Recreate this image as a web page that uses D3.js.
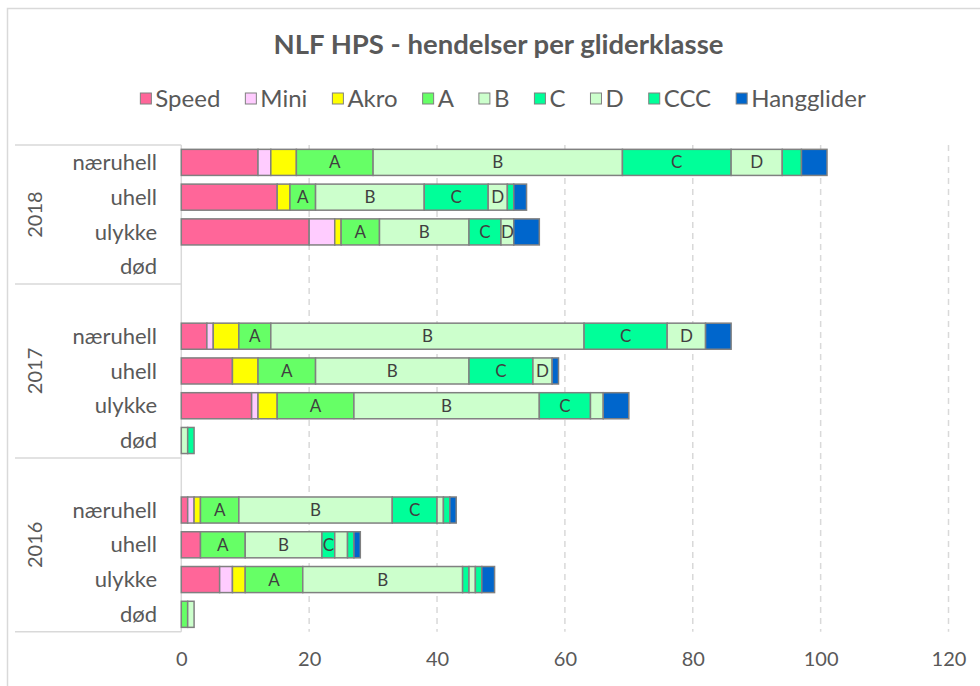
<!DOCTYPE html>
<html>
<head>
<meta charset="utf-8">
<script src="https://cdn.jsdelivr.net/npm/d3@7"></script>
<style>
  html, body { margin: 0; padding: 0; background: #fff; }
  svg { display: block; font-family: Lato, "Open Sans", sans-serif; }
</style>
</head>
<body>
<svg id="chart" width="980" height="686"></svg>
<script>
// ---------------- DATA ----------------
const title = "NLF HPS - hendelser per gliderklasse";
const years = ["2018", "2017", "2016"];
const eventTypes = ["næruhell", "uhell", "ulykke", "død"];
const seriesNames = ["Speed", "Mini", "Akro", "A", "B", "C", "D", "CCC", "Hangglider"];
const seriesColors = ["#ff6699", "#ffccff", "#ffff00", "#66ff66", "#ccffcc", "#00ff99", "#ccffcc", "#00ff99", "#0066cc"];
// rows: 2018 næruhell, uhell, ulykke, død, 2017 ..., 2016 ...
const speed      = [12, 15, 20, 0,  4,  8, 11, 0,  1,  3,  6, 0];
const mini       = [ 2,  0,  4, 0,  1,  0,  1, 0,  1,  0,  2, 0];
const akro       = [ 4,  2,  1, 0,  4,  4,  3, 0,  1,  0,  2, 0];
const classA     = [12,  4,  6, 0,  5,  9, 12, 0,  6,  7,  9, 1];
const classB     = [39, 17, 14, 0, 49, 24, 29, 1, 24, 12, 25, 1];
const classC     = [17, 10,  5, 0, 13, 10,  8, 1,  7,  2,  1, 0];
const classD     = [ 8,  3,  2, 0,  6,  3,  2, 0,  1,  2,  1, 0];
const classCCC   = [ 3,  1,  0, 0,  0,  0,  0, 0,  1,  1,  1, 0];
const hangglider = [ 4,  2,  4, 0,  4,  1,  4, 0,  1,  1,  2, 0];
// which series show a name label on each row
const labelledSeries = [["A","B","C","D"], ["A","B","C","D"], ["A","B","C","D"], [],
                        ["A","B","C","D"], ["A","B","C","D"], ["A","B","C"], [],
                        ["A","B","C"], ["A","B","C"], ["A","B"], []];
const xTicks = [0, 20, 40, 60, 80, 100, 120];

const seriesValues = [speed, mini, akro, classA, classB, classC, classD, classCCC, hangglider];

// ---------------- BUILD ROWS ----------------
const slots = [];
const rows = [];
years.forEach((yr, yi) => {
  if (yi > 0) slots.push({ id: yr + "-blank", year: yr, type: "" });
  eventTypes.forEach((t, ti) => {
    const idx = yi * eventTypes.length + ti;
    const s = { id: yr + "-" + t, year: yr, type: t, idx };
    slots.push(s);
    rows.push(s);
  });
});

const tableRows = rows.map(r => {
  const o = { id: r.id, idx: r.idx };
  seriesNames.forEach((n, i) => o[n] = seriesValues[i][r.idx]);
  return o;
});
const stacked = d3.stack().keys(seriesNames)(tableRows);

// ---------------- LAYOUT ----------------
const svg = d3.select("#chart");
const textColor = "#595959";
const gridColor = "#d9d9d9";

const plotTop = 145, plotBottom = 631.7;
const x = d3.scaleLinear().domain([0, 120]).range([181.3, 948.5]);
const y = d3.scaleBand().domain(slots.map(s => s.id)).range([plotTop, plotBottom]).paddingInner(0.25).paddingOuter(0.125);

// chart border (left/top visible)
svg.append("rect").attr("x", 7.5).attr("y", 8.5).attr("width", 1000).attr("height", 700)
  .attr("fill", "none").attr("stroke", gridColor).attr("stroke-width", 1.5);

// title
svg.append("text").attr("x", 498.5).attr("y", 54).attr("text-anchor", "middle")
  .attr("font-weight", "bold").attr("font-size", 27.5).attr("fill", textColor).text(title);

// legend
const legend = svg.append("g").attr("class", "legend");
const legFont = 24;
const legItems = [];
seriesNames.forEach((n, i) => {
  const g = legend.append("g");
  g.append("rect").attr("x", 0).attr("y", -6).attr("width", 11).attr("height", 11)
    .attr("fill", seriesColors[i]).attr("stroke", "#808080").attr("stroke-width", 1);
  const t = g.append("text").attr("x", 15).attr("y", 0).attr("dy", "0.35em")
    .attr("font-size", legFont).attr("fill", textColor).text(n);
  const w = 15 + t.node().getComputedTextLength();
  legItems.push({ g, w });
});
const legGap = 25;
const legTotal = d3.sum(legItems, d => d.w) + legGap * (legItems.length - 1);
let lx = 503 - legTotal / 2;
legItems.forEach(it => { it.g.attr("transform", `translate(${lx},99)`); lx += it.w + legGap; });

// gridlines
svg.append("g").selectAll("line").data(xTicks.filter(t => t > 0)).join("line")
  .attr("x1", d => x(d)).attr("x2", d => x(d)).attr("y1", plotTop).attr("y2", plotBottom)
  .attr("stroke", gridColor).attr("stroke-width", 1.5).attr("stroke-dasharray", "6,5");

// x axis
const xAxis = svg.append("g").attr("transform", `translate(0,${plotBottom})`)
  .call(d3.axisBottom(x).tickValues(xTicks).tickSize(0).tickPadding(20));
xAxis.select(".domain").remove();
xAxis.selectAll("text").attr("font-size", 20).attr("fill", textColor).attr("font-family", "Lato, sans-serif");

// category axis (multi-level table)
const yAxis = svg.append("g");
yAxis.append("line").attr("x1", x(0)).attr("x2", x(0)).attr("y1", plotTop).attr("y2", plotBottom)
  .attr("stroke", gridColor).attr("stroke-width", 1.5);
const groupBounds = [];
years.forEach((yr) => {
  const ids = slots.filter(s => s.year === yr).map(s => s.id);
  const step = y.step();
  const top = y(ids[0]) - y.paddingInner() * step / 2 - (ids[0] === slots[0].id ? (y.paddingOuter() - y.paddingInner() / 2) * step : 0);
  const bottom = y(ids[ids.length - 1]) + y.bandwidth() + y.paddingInner() * step / 2 + (ids[ids.length - 1] === slots[slots.length - 1].id ? (y.paddingOuter() - y.paddingInner() / 2) * step : 0);
  groupBounds.push({ yr, top, bottom });
});
const boundaryYs = [groupBounds[0].top, ...groupBounds.map(g => g.bottom)];
yAxis.selectAll("line.sep").data(boundaryYs).join("line").attr("class", "sep")
  .attr("x1", 15).attr("x2", x(0)).attr("y1", d => d).attr("y2", d => d)
  .attr("stroke", gridColor).attr("stroke-width", 1.5);
yAxis.selectAll("text.cat").data(rows).join("text").attr("class", "cat")
  .attr("x", 157).attr("y", d => y(d.id) + y.bandwidth() / 2).attr("dy", "0.35em")
  .attr("text-anchor", "end").attr("font-size", 22).attr("fill", textColor).text(d => d.type);
yAxis.selectAll("text.year").data(groupBounds).join("text").attr("class", "year")
  .attr("transform", d => `translate(35,${(d.top + d.bottom) / 2}) rotate(-90)`)
  .attr("dy", "0.35em").attr("text-anchor", "middle").attr("font-size", 20).attr("fill", textColor).text(d => d.yr);

// bars
const barG = svg.append("g");
stacked.forEach((layer, si) => {
  barG.append("g").selectAll("rect").data(layer.filter(d => d[1] - d[0] > 0)).join("rect")
    .attr("x", d => x(d[0])).attr("width", d => x(d[1]) - x(d[0]))
    .attr("y", d => y(d.data.id)).attr("height", y.bandwidth())
    .attr("fill", seriesColors[si]).attr("stroke", "#808080").attr("stroke-width", 1.5);
});
// data labels
stacked.forEach((layer, si) => {
  const name = seriesNames[si];
  barG.append("g").selectAll("text")
    .data(layer.filter(d => d[1] - d[0] > 0 && labelledSeries[d.data.idx].includes(name)))
    .join("text")
    .attr("x", d => (x(d[0]) + x(d[1])) / 2).attr("y", d => y(d.data.id) + y.bandwidth() / 2)
    .attr("dy", "0.35em").attr("text-anchor", "middle").attr("font-size", 17).attr("fill", "#404040")
    .text(name);
});
</script>
</body>
</html>
